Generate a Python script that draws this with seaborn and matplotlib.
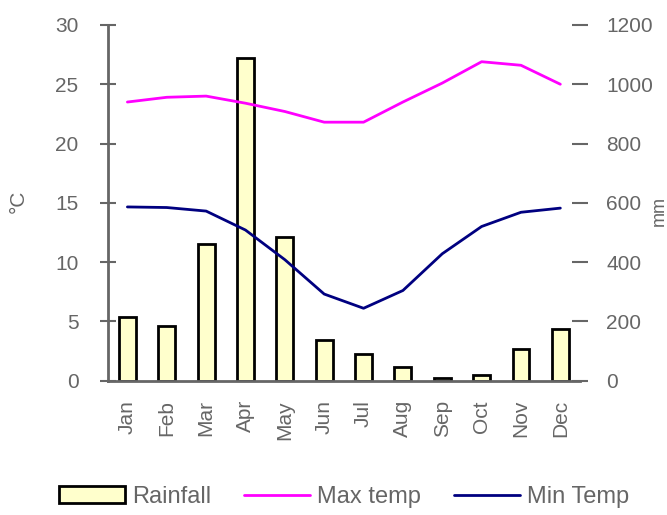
import matplotlib
matplotlib.use('Agg')
import matplotlib.pyplot as plt
import numpy as np
import pandas as pd
import seaborn as sns

months = ['Jan', 'Feb', 'Mar', 'Apr', 'May', 'Jun', 'Jul', 'Aug', 'Sep', 'Oct', 'Nov', 'Dec']
rainfall = [215, 185, 460, 1088, 486, 138, 90, 47, 10, 20, 107, 174]
max_temp = [23.5, 23.9, 24.0, 23.4, 22.7, 21.8, 21.8, 23.5, 25.1, 26.9, 26.6, 25.0]
min_temp = [14.65, 14.6, 14.3, 12.7, 10.2, 7.3, 6.1, 7.6, 10.7, 13.0, 14.2, 14.55]

df = pd.DataFrame({'month': months, 'rain': rainfall, 'tmax': max_temp, 'tmin': min_temp})

sns.set_style('white')
plt.rcParams['font.family'] = ['Liberation Sans', 'DejaVu Sans']
grey = '#666666'

fig = plt.figure(figsize=(6.67, 5.15), dpi=100)
ax = fig.add_axes([0.1615, 0.261, 0.7081, 0.6905])
ax2 = ax.twinx()

# rainfall bars on the right axis
sns.barplot(data=df, x='month', y='rain', ax=ax2, width=0.43, color='#FFFFCC',
            saturation=1, edgecolor='black', linewidth=2, label='Rainfall')

# temperature lines on the left axis, drawn over the bars
sns.lineplot(data=df, x='month', y='tmax', ax=ax, sort=False, color='#FF00FF',
             linewidth=2, label='Max temp')
sns.lineplot(data=df, x='month', y='tmin', ax=ax, sort=False, color='#000080',
             linewidth=2, label='Min Temp')
ax.set_zorder(ax2.get_zorder() + 1)
ax.patch.set_visible(False)

ax.set_xlim(-0.5, 11.5)
ax.set_ylim(0, 30)
ax2.set_ylim(0, 1200)
ax.set_yticks(range(0, 31, 5))
ax2.set_yticks(range(0, 1201, 200))

ax.set_xticks(range(12))
ax.set_xticklabels(months, rotation=90)
ax.set_xticks(np.arange(0.5, 11.5, 1), minor=True)
ax.tick_params(axis='x', which='major', length=0, pad=14, labelsize=15, labelcolor=grey)
ax.tick_params(axis='x', which='minor', direction='inout', length=12, width=1.5, color=grey)
ax.tick_params(axis='y', direction='inout', length=12, width=1.5, color=grey,
               pad=15, labelsize=15, labelcolor=grey, left=True)
ax2.tick_params(axis='y', direction='inout', length=12, width=1.5, color=grey,
                pad=13, labelsize=15, labelcolor=grey, right=True)
ax2.tick_params(axis='x', length=0)

for a in (ax, ax2):
    a.set_xlabel('')
    a.set_ylabel('')
    for s in ('top', 'right'):
        a.spines[s].set_visible(False)
    a.spines['left'].set_color(grey)
    a.spines['left'].set_linewidth(2)
    a.spines['bottom'].set_color(grey)
    a.spines['bottom'].set_linewidth(2)
ax2.spines['left'].set_visible(False)
ax2.spines['bottom'].set_visible(False)

fig.text(18 / 667, 1 - 201 / 515, '°C', rotation=90, ha='center', va='center',
         fontsize=15, color=grey)
fig.text(659 / 667, 1 - 211 / 515, 'mm', rotation=90, ha='center', va='center',
         fontsize=13, color=grey)

h1, l1 = ax2.get_legend_handles_labels()
h2, l2 = ax.get_legend_handles_labels()
if ax.get_legend() is not None:
    ax.get_legend().remove()
if ax2.get_legend() is not None:
    ax2.get_legend().remove()
fig.legend(h1 + h2, l1 + l2, loc='center', bbox_to_anchor=(0.516, 0.035), ncol=3,
           frameon=False, fontsize=17, handlelength=2.8, handletextpad=0.3,
           columnspacing=1.4, labelcolor=grey)

fig.savefig('out.png', dpi=100)
